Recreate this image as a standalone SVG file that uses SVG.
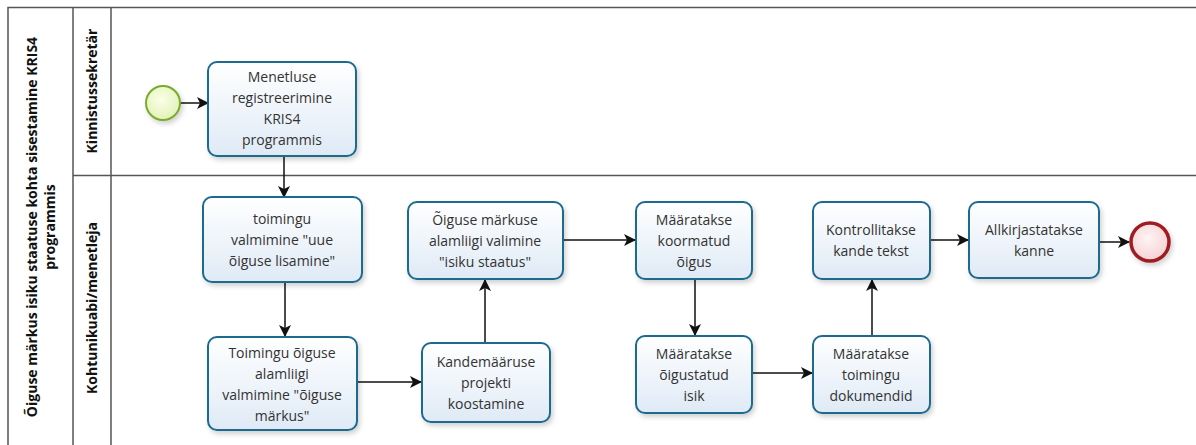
<svg xmlns="http://www.w3.org/2000/svg" width="1196" height="445" viewBox="0 0 1196 445">
<defs>
<linearGradient id="tg" x1="0" y1="0" x2="0" y2="1">
<stop offset="0" stop-color="#ffffff"/>
<stop offset="1" stop-color="#dfeaf6"/>
</linearGradient>
<radialGradient id="sg" cx="0.45" cy="0.4" r="0.6">
<stop offset="0" stop-color="#fbffe8"/>
<stop offset="1" stop-color="#e2f2b8"/>
</radialGradient>
<radialGradient id="eg" cx="0.45" cy="0.4" r="0.6">
<stop offset="0" stop-color="#fff4f4"/>
<stop offset="1" stop-color="#f5d2d4"/>
</radialGradient>
<filter id="sh" x="-10%" y="-10%" width="130%" height="130%">
<feDropShadow dx="2" dy="3" stdDeviation="2.5" flood-color="#000" flood-opacity="0.18"/>
</filter>
<marker id="ar" viewBox="0 0 12 12" refX="11" refY="6" markerWidth="12" markerHeight="12" markerUnits="userSpaceOnUse" orient="auto">
<path d="M0,0 L12,6 L0,12 L3,6 Z" fill="#111"/>
</marker>
</defs>
<style>
.task rect{fill:url(#tg);stroke:#1d6a8e;stroke-width:2;filter:url(#sh)}
.task text{font-family:"Open Sans","Noto Sans",sans-serif;font-size:14px;fill:#333;text-anchor:middle}
.lane{fill:none;stroke:#555;stroke-width:1.5}
.hdr{font-family:"Open Sans","Noto Sans",sans-serif;font-weight:bold;font-size:14px;fill:#111;text-anchor:middle}
.conn path{fill:none;stroke:#111;stroke-width:1.5;marker-end:url(#ar)}
</style>
<rect width="1196" height="445" fill="#ffffff"/>
<g id="pool">
<path class="lane" d="M8,448 L8,7.5 L1196,7.5 M73,7.5 L73,448 M111,7.5 L111,448 M73,175.5 L1196,175.5"/>
<text class="hdr" transform="translate(37,227) rotate(-90)">Õiguse märkus isiku staatuse kohta sisestamine KRIS4</text>
<text class="hdr" transform="translate(55,227) rotate(-90)">programmis</text>
</g>
<g id="lane1"><text class="hdr" transform="translate(97,91) rotate(-90)">Kinnistussekretär</text></g>
<g id="lane2"><text class="hdr" transform="translate(97,308) rotate(-90)">Kohtunikuabi/menetleja</text></g>

<g class="conn" id="connectors">
<path d="M180,103 L208,103"/>
<path d="M284,156 L284,197"/>
<path d="M285,282 L285,336"/>
<path d="M357,382 L421,382"/>
<path d="M485,343 L485,280"/>
<path d="M563,240 L635,240"/>
<path d="M695,279 L695,335"/>
<path d="M752,373 L812,373"/>
<path d="M872,336 L872,280"/>
<path d="M930,240 L968,240"/>
<path d="M1099,242 L1129,242"/>
</g>

<g id="start"><circle cx="163" cy="103" r="17" fill="url(#sg)" stroke="#7aaa2e" stroke-width="2" filter="url(#sh)"/></g>

<g id="t1" class="task"><rect x="208" y="62" width="148" height="94" rx="9"/>
<text x="282" y="82">Menetluse</text><text x="282" y="103">registreerimine</text><text x="282" y="124">KRIS4</text><text x="282" y="145">programmis</text></g>

<g id="t2" class="task"><rect x="203" y="197" width="159" height="85" rx="9"/>
<text x="282" y="224">toimingu</text><text x="282" y="245">valmimine "uue</text><text x="282" y="266">õiguse lisamine"</text></g>

<g id="t3" class="task"><rect x="208" y="337" width="149" height="93" rx="9"/>
<text x="282" y="358">Toimingu õiguse</text><text x="282" y="379">alamliigi</text><text x="282" y="400">valmimine "õiguse</text><text x="282" y="421">märkus"</text></g>

<g id="t4" class="task"><rect x="422" y="343" width="128" height="79" rx="9"/>
<text x="486" y="367">Kandemääruse</text><text x="486" y="388">projekti</text><text x="486" y="409">koostamine</text></g>

<g id="t5" class="task"><rect x="408" y="202" width="155" height="77" rx="9"/>
<text x="485" y="225">Õiguse märkuse</text><text x="485" y="246">alamliigi valimine</text><text x="485" y="267">"isiku staatus"</text></g>

<g id="t6" class="task"><rect x="636" y="202" width="116" height="77" rx="9"/>
<text x="694" y="225">Määratakse</text><text x="694" y="246">koormatud</text><text x="694" y="267">õigus</text></g>

<g id="t7" class="task"><rect x="636" y="336" width="116" height="77" rx="9"/>
<text x="694" y="359">Määratakse</text><text x="694" y="380">õigustatud</text><text x="694" y="401">isik</text></g>

<g id="t8" class="task"><rect x="813" y="336" width="117" height="77" rx="9"/>
<text x="871" y="359">Määratakse</text><text x="871" y="380">toimingu</text><text x="871" y="401">dokumendid</text></g>

<g id="t9" class="task"><rect x="813" y="202" width="117" height="77" rx="9"/>
<text x="871" y="235">Kontrollitakse</text><text x="871" y="256">kande tekst</text></g>

<g id="t10" class="task"><rect x="969" y="202" width="130" height="76" rx="9"/>
<text x="1034" y="235">Allkirjastatakse</text><text x="1034" y="256">kanne</text></g>

<g id="end"><circle cx="1150" cy="242" r="19" fill="url(#eg)" stroke="#9e1b22" stroke-width="3.5" filter="url(#sh)"/></g>
</svg>
